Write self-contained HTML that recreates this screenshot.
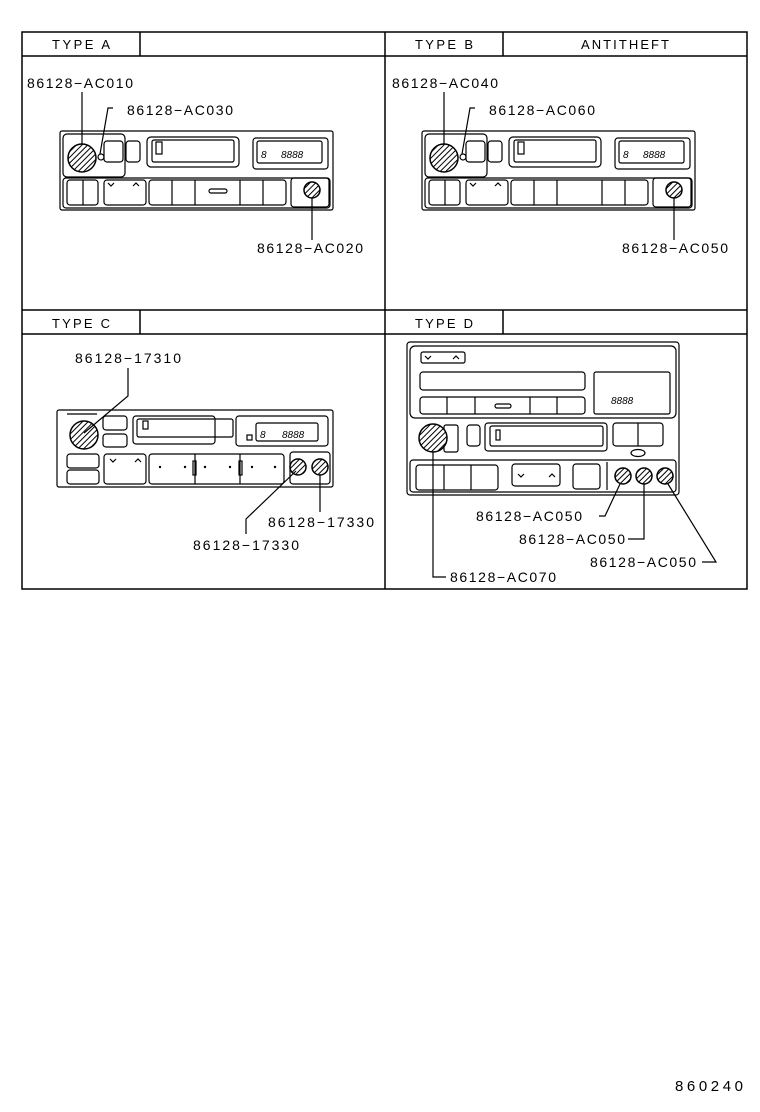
<!DOCTYPE html>
<html><head><style>html,body{margin:0;padding:0;background:#fff}svg{display:block}</style></head><body>
<svg width="760" height="1112" viewBox="0 0 760 1112" xmlns="http://www.w3.org/2000/svg" font-family="Liberation Sans, sans-serif" fill="none" stroke="#000">
<defs>
<pattern id="h" width="4" height="4" patternUnits="userSpaceOnUse" patternTransform="rotate(45)"><rect width="4" height="4" fill="#fff" stroke="none"/><line x1="0" y1="0" x2="0" y2="4" stroke="#000" stroke-width="2"/></pattern>
</defs>
<g stroke-width="1.5">
<rect x="22" y="32" width="725" height="557"/>
<line x1="385" y1="32" x2="385" y2="589"/>
<line x1="22" y1="310" x2="747" y2="310"/>
<line x1="22" y1="56" x2="747" y2="56"/>
<line x1="22" y1="334" x2="747" y2="334"/>
<line x1="140" y1="32" x2="140" y2="56"/><line x1="503" y1="32" x2="503" y2="56"/>
<line x1="140" y1="310" x2="140" y2="334"/><line x1="503" y1="310" x2="503" y2="334"/>
</g>
<g fill="#000" stroke="none" font-size="13">
<text x="52" y="49" textLength="58" lengthAdjust="spacing">TYPE A</text><text x="415" y="49" textLength="58" lengthAdjust="spacing">TYPE B</text><text x="581" y="49" textLength="88" lengthAdjust="spacing">ANTITHEFT</text>
<text x="52" y="328" textLength="58" lengthAdjust="spacing">TYPE C</text><text x="415" y="328" textLength="58" lengthAdjust="spacing">TYPE D</text>
</g>
<!-- Type A radio -->
<g id="ra" stroke-width="1.2">
<rect x="60" y="131" width="273" height="79" rx="2"/>
<rect x="63" y="134" width="62" height="43" rx="4"/>
<rect x="104" y="141" width="19" height="21" rx="3"/><rect x="126" y="141" width="14" height="21" rx="3"/>
<rect x="147" y="137" width="92" height="30" rx="4"/><rect x="152" y="140" width="82" height="22" rx="2"/>
<rect x="156" y="142" width="6" height="12"/>
<rect x="253" y="138" width="75" height="31" rx="3"/><rect x="257" y="141" width="65" height="22" rx="2"/>
<rect x="63" y="178" width="267" height="30" rx="3"/>
<rect x="67" y="180" width="31" height="25" rx="3"/><line x1="83" y1="180" x2="83" y2="205"/>
<rect x="104" y="180" width="42" height="25" rx="3"/>
<rect x="149" y="180" width="137" height="25" rx="3"/>
<line x1="172" y1="180" x2="172" y2="205"/><line x1="195" y1="180" x2="195" y2="205"/><line x1="240" y1="180" x2="240" y2="205"/><line x1="263" y1="180" x2="263" y2="205"/>
<rect x="291" y="178" width="38" height="29" rx="3"/>
<circle cx="82" cy="158" r="14" fill="url(#h)" stroke-width="1.5"/>
<circle cx="101" cy="157" r="3"/>
<circle cx="312" cy="190" r="8" fill="url(#h)" stroke-width="1.5"/>
</g>
<g fill="#000" stroke="none" font-size="10" font-style="italic"><text x="261" y="158">8</text><text x="281" y="158">8888</text><text x="623" y="158">8</text><text x="643" y="158">8888</text></g>
<g stroke-width="1.2">
<line x1="82" y1="92" x2="82" y2="144"/>
<polyline points="113,108 108,108 100,154"/>
<line x1="312" y1="198" x2="312" y2="240"/>
<path d="M108 183 l3 3 l3 -3 M133 186 l3 -3 l3 3"/>
<rect x="209" y="189" width="18" height="4" rx="2"/>
</g>
<!-- Type B -->
<use href="#ra" x="362" y="0"/>
<g stroke-width="1.2">
<line x1="444" y1="92" x2="444" y2="144"/>
<polyline points="475,108 470,108 462,154"/>
<line x1="674" y1="198" x2="674" y2="240"/>
<path d="M470 183 l3 3 l3 -3 M495 186 l3 -3 l3 3"/>
</g>
<!-- Type C -->
<g stroke-width="1.2">
<rect x="57" y="410" width="276" height="77" rx="2"/>
<line x1="67" y1="414" x2="97" y2="414"/>
<rect x="103" y="416" width="24" height="14" rx="3"/><rect x="103" y="434" width="24" height="13" rx="3"/>
<rect x="133" y="416" width="82" height="28" rx="3"/><rect x="137" y="419" width="96" height="18" rx="2"/>
<rect x="143" y="421" width="5" height="8"/>
<rect x="236" y="416" width="92" height="30" rx="3"/><rect x="256" y="423" width="62" height="18" rx="2"/>
<rect x="247" y="435" width="5" height="5"/>
<rect x="67" y="454" width="32" height="14" rx="3"/><rect x="67" y="470" width="32" height="14" rx="3"/>
<rect x="104" y="454" width="42" height="30" rx="3"/>
<rect x="149" y="454" width="135" height="30" rx="3"/>
<line x1="195" y1="454" x2="195" y2="484"/><line x1="240" y1="454" x2="240" y2="484"/>
<rect x="193" y="461" width="3" height="14"/><rect x="239" y="461" width="3" height="14"/>
<rect x="290" y="452" width="40" height="32" rx="3"/>
<circle cx="84" cy="435" r="14" fill="url(#h)" stroke-width="1.5"/>
<circle cx="298" cy="467" r="8" fill="url(#h)" stroke-width="1.5"/>
<circle cx="320" cy="467" r="8" fill="url(#h)" stroke-width="1.5"/>
<polyline points="128,368 128,396 84,433"/>
<polyline points="296,471 246,519 246,534"/>
<line x1="320" y1="475" x2="320" y2="512"/>
<path d="M110 459 l3 3 l3 -3 M135 462 l3 -3 l3 3"/>
</g>
<g fill="#000" stroke="none"><circle cx="160" cy="467" r="1.2"/><circle cx="185" cy="467" r="1.2"/><circle cx="205" cy="467" r="1.2"/><circle cx="230" cy="467" r="1.2"/><circle cx="252" cy="467" r="1.2"/><circle cx="275" cy="467" r="1.2"/></g>
<g fill="#000" stroke="none" font-size="10" font-style="italic"><text x="260" y="438">8</text><text x="282" y="438">8888</text></g>
<!-- Type D -->
<g stroke-width="1.2">
<rect x="407" y="342" width="272" height="153" rx="3"/>
<rect x="410" y="346" width="266" height="72" rx="5"/>
<rect x="421" y="352" width="44" height="11" rx="2"/>
<rect x="420" y="372" width="165" height="18" rx="3"/>
<rect x="420" y="397" width="165" height="17" rx="3"/>
<line x1="447" y1="397" x2="447" y2="414"/><line x1="475" y1="397" x2="475" y2="414"/><line x1="530" y1="397" x2="530" y2="414"/><line x1="557" y1="397" x2="557" y2="414"/>
<rect x="594" y="372" width="76" height="42" rx="2"/>
<rect x="444" y="425" width="14" height="27" rx="2"/>
<rect x="467" y="425" width="13" height="21" rx="3"/>
<rect x="485" y="423" width="122" height="28" rx="3"/><rect x="490" y="426" width="113" height="20" rx="2"/>
<rect x="496" y="430" width="4" height="10"/>
<rect x="613" y="423" width="50" height="23" rx="3"/><line x1="638" y1="423" x2="638" y2="446"/>
<ellipse cx="638" cy="453" rx="7" ry="3.5"/>
<rect x="410" y="460" width="266" height="32" rx="3"/>
<rect x="416" y="465" width="82" height="25" rx="3"/><line x1="444" y1="465" x2="444" y2="490"/><line x1="471" y1="465" x2="471" y2="490"/>
<rect x="512" y="464" width="48" height="22" rx="3"/>
<rect x="573" y="464" width="27" height="25" rx="3"/>
<line x1="607" y1="462" x2="607" y2="490"/>
<circle cx="433" cy="438" r="14" fill="url(#h)" stroke-width="1.5"/>
<circle cx="623" cy="476" r="8" fill="url(#h)" stroke-width="1.5"/>
<circle cx="644" cy="476" r="8" fill="url(#h)" stroke-width="1.5"/>
<circle cx="665" cy="476" r="8" fill="url(#h)" stroke-width="1.5"/>
<polyline points="433,452 433,577 446,577"/>
<polyline points="599,516 605,516 620,484"/>
<polyline points="628,539 644,539 644,484"/>
<polyline points="702,562 716,562 668,484"/>
<path d="M425 356 l3 3 l3 -3 M453 359 l3 -3 l3 3 M518 474 l3 3 l3 -3 M549 477 l3 -3 l3 3"/>
<rect x="495" y="404" width="16" height="4" rx="2"/>
</g>
<g fill="#000" stroke="none" font-size="10" font-style="italic"><text x="611" y="404">8888</text></g>
<g fill="#000" stroke="none" font-size="14">
<text x="27" y="88" textLength="106" lengthAdjust="spacing">86128−AC010</text>
<text x="127" y="115" textLength="106" lengthAdjust="spacing">86128−AC030</text>
<text x="257" y="253" textLength="106" lengthAdjust="spacing">86128−AC020</text>
<text x="392" y="88" textLength="106" lengthAdjust="spacing">86128−AC040</text>
<text x="489" y="115" textLength="106" lengthAdjust="spacing">86128−AC060</text>
<text x="622" y="253" textLength="106" lengthAdjust="spacing">86128−AC050</text>
<text x="75" y="363" textLength="106" lengthAdjust="spacing">86128−17310</text>
<text x="268" y="527" textLength="106" lengthAdjust="spacing">86128−17330</text>
<text x="193" y="550" textLength="106" lengthAdjust="spacing">86128−17330</text>
<text x="476" y="521" textLength="106" lengthAdjust="spacing">86128−AC050</text>
<text x="519" y="544" textLength="106" lengthAdjust="spacing">86128−AC050</text>
<text x="590" y="567" textLength="106" lengthAdjust="spacing">86128−AC050</text>
<text x="450" y="582" textLength="106" lengthAdjust="spacing">86128−AC070</text>
<text x="675" y="1091" font-size="15" textLength="68" lengthAdjust="spacing">860240</text>
</g>
</svg>
</body></html>
